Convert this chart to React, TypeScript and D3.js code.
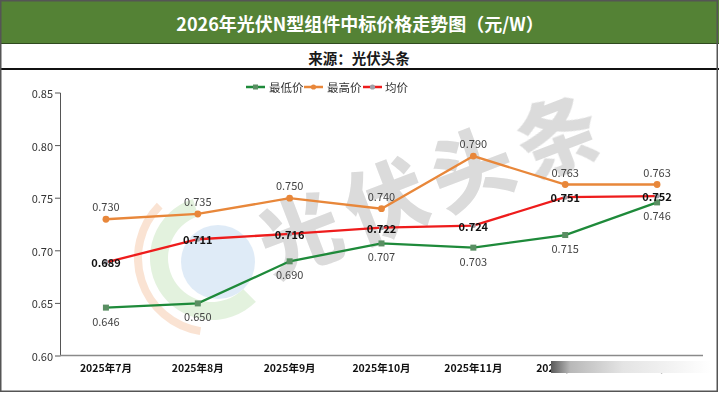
import React from "react";
import * as d3 from "d3";

const categories = ["2025年7月", "2025年8月", "2025年9月", "2025年10月", "2025年11月", "2025年12月", "2026年1月"];
const minPrice = [0.646, 0.65, 0.69, 0.707, 0.703, 0.715, 0.746];
const maxPrice = [0.73, 0.735, 0.75, 0.74, 0.79, 0.763, 0.763];
const avgPrice = [0.689, 0.711, 0.716, 0.722, 0.724, 0.751, 0.752];
const yTicks = [0.6, 0.65, 0.7, 0.75, 0.8, 0.85];
const seriesNames = ["最低价", "最高价", "均价"];
const titleText = "2026年光伏N型组件中标价格走势图（元/W）";
const sourceText = "来源：光伏头条";
const watermarkChars = ["光", "伏", "头", "条"];

const W = 719;
const H = 393;
const NARROW = "'Liberation Sans Narrow', 'Noto Sans CJK SC', Arial, sans-serif";
const CJK = "'Noto Sans CJK SC', 'Noto Sans', sans-serif";

export default function App() {
  const x = d3.scalePoint<string>().domain(categories).range([60, 703]).padding(0.5);
  const y = d3.scaleLinear().domain([0.6, 0.85]).range([356, 93]);
  const line = d3
    .line<number>()
    .x((_, i) => x(categories[i]) as number)
    .y((d) => y(d));

  const green = "#1e8a3a";
  const orange = "#e8873a";
  const red = "#ee1c1c";

  const legendItems = [
    { name: seriesNames[0], color: green, marker: "square", mColor: "#5a8f63", lx: 246, tx: 269 },
    { name: seriesNames[1], color: orange, marker: "circle", mColor: orange, lx: 304, tx: 327 },
    { name: seriesNames[2], color: red, marker: "circle", mColor: "#a0a0a8", lx: 363, tx: 385 },
  ];

  return (
    <div style={{ position: "absolute", left: 0, top: 0 }}>
      <svg width={W} height={H} style={{ display: "block" }}>
        <defs>
          <linearGradient id="smear" x1="0" x2="1" y1="0" y2="0">
            <stop offset="0" stopColor="#5a5a5a" />
            <stop offset="0.12" stopColor="#b8b8b8" />
            <stop offset="0.45" stopColor="#e4e4e4" />
            <stop offset="1" stopColor="#ffffff" />
          </linearGradient>
        </defs>
        <rect x={0} y={0} width={W} height={H} fill="#ffffff" />
        {/* title band */}
        <rect x={0} y={0} width={W} height={43} fill="#548235" />
        <line x1={0} x2={W} y1={43.5} y2={43.5} stroke="#2f4a1f" strokeWidth={1} />
        <text x={360} y={23} textAnchor="middle" dominantBaseline="central" fill="#ffffff" fontFamily={CJK} fontWeight={700} fontSize={18}>
          {titleText}
        </text>
        <text x={359} y={57} textAnchor="middle" dominantBaseline="central" fill="#1a1a1a" fontFamily={CJK} fontWeight={700} fontSize={14.5}>
          {sourceText}
        </text>
        <line x1={0} x2={W} y1={69} y2={69} stroke="#111" strokeWidth={2.2} />

        {/* watermark logo */}
        <g opacity={0.55}>
          <path d={d3.arc()({ innerRadius: 70, outerRadius: 78, startAngle: Math.PI * 1.05, endAngle: Math.PI * 1.75 }) as string} transform="translate(212,258)" fill="#f7cdb0" />
          <path d={d3.arc()({ innerRadius: 44, outerRadius: 62, startAngle: Math.PI * 0.75, endAngle: Math.PI * 1.9 }) as string} transform="translate(212,258)" fill="#cde8c4" />
          <circle cx={218} cy={262} r={37} fill="#c6dcf2" />
        </g>
        {/* watermark text */}
        <g fill="#d2d2d2" opacity={0.8} fontFamily={CJK} fontWeight={900} fontSize={82}>
          {watermarkChars.map((c, i) => {
            const cx = 298 + i * 86;
            const cy = 230 - i * 33;
            return (
              <text key={c} x={cx} y={cy} textAnchor="middle" dominantBaseline="central" transform={`rotate(-21 ${cx} ${cy})`}>
                {c}
              </text>
            );
          })}
        </g>

        {/* y axis */}
        <line x1={60.5} x2={60.5} y1={y(0.85)} y2={y(0.6)} stroke="#555" strokeWidth={1} />
        {yTicks.map((t) => (
          <g key={t}>
            <line x1={55} x2={60.5} y1={y(t)} y2={y(t)} stroke="#555" strokeWidth={1} />
            <text x={53} y={y(t)} textAnchor="end" dominantBaseline="central" fontFamily={NARROW} fontSize={11} fill="#333">
              {d3.format(".2f")(t)}
            </text>
          </g>
        ))}
        {/* x axis */}
        <line x1={60} x2={703} y1={355.5} y2={355.5} stroke="#8a8a8a" strokeWidth={1.5} />
        {categories.map((c) => (
          <text key={c} x={x(c)} y={367} textAnchor="middle" dominantBaseline="central" fontFamily={NARROW} fontWeight={700} fontSize={10.5} fill="#111">
            {c}
          </text>
        ))}
        <rect x={551} y={361} width={160} height={12} fill="url(#smear)" />

        {/* legend */}
        {legendItems.map((it) => (
          <g key={it.name}>
            <line x1={it.lx} x2={it.lx + 19} y1={87} y2={87} stroke={it.color} strokeWidth={2.5} />
            {it.marker === "square" ? (
              <rect x={it.lx + 7} y={84.5} width={5} height={5} fill={it.mColor} />
            ) : (
              <circle cx={it.lx + 9.5} cy={87} r={2.6} fill={it.mColor} />
            )}
            <text x={it.tx} y={87} dominantBaseline="central" fontFamily={CJK} fontSize={11.5} fill="#333">
              {it.name}
            </text>
          </g>
        ))}

        {/* series lines */}
        <path d={line(maxPrice) as string} fill="none" stroke={orange} strokeWidth={2.3} />
        <path d={line(minPrice) as string} fill="none" stroke={green} strokeWidth={2.3} />
        <path d={line(avgPrice) as string} fill="none" stroke={red} strokeWidth={2.3} />

        {maxPrice.map((v, i) => (
          <circle key={"mx" + i} cx={x(categories[i])} cy={y(v)} r={3.4} fill={orange} />
        ))}
        {minPrice.map((v, i) => (
          <rect key={"mn" + i} x={(x(categories[i]) as number) - 3} y={y(v) - 3} width={6} height={6} fill="#5a8f63" />
        ))}
        {avgPrice.map((v, i) => (
          <circle key={"av" + i} cx={x(categories[i])} cy={y(v)} r={2.5} fill="#a0a0a8" />
        ))}

        {maxPrice.map((v, i) => (
          <text key={"mxl" + i} x={x(categories[i])} y={y(v) - 13} textAnchor="middle" dominantBaseline="central" fontFamily={NARROW} fontSize={11} fill="#444">
            {d3.format(".3f")(v)}
          </text>
        ))}
        {minPrice.map((v, i) => (
          <text key={"mnl" + i} x={x(categories[i])} y={y(v) + 13} textAnchor="middle" dominantBaseline="central" fontFamily={NARROW} fontSize={11} fill="#444">
            {d3.format(".3f")(v)}
          </text>
        ))}
        {avgPrice.map((v, i) => (
          <text key={"avl" + i} x={x(categories[i])} y={y(v)} textAnchor="middle" dominantBaseline="central" fontFamily={NARROW} fontWeight={700} fontSize={11} fill="#111">
            {d3.format(".3f")(v)}
          </text>
        ))}

        {/* outer frame */}
        <rect x={0.75} y={0.75} width={W - 2.5} height={H - 2.5} fill="none" stroke="#555" strokeWidth={1.5} />
      </svg>
    </div>
  );
}
